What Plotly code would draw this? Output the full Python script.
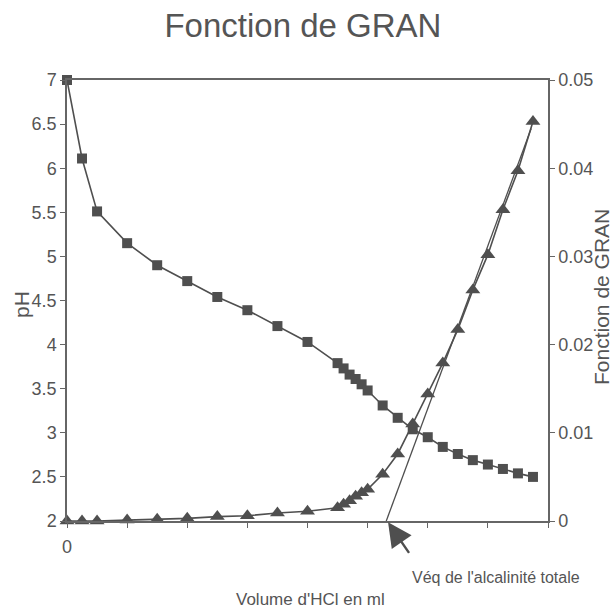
import plotly.graph_objects as go

# Volume of HCl (ml)
volume_ml = [0, 0.25, 0.5, 1, 1.5, 2, 2.5, 3, 3.5, 4, 4.5, 4.6, 4.7, 4.8, 4.9, 5.0,
             5.25, 5.5, 5.75, 6, 6.25, 6.5, 6.75, 7, 7.25, 7.5, 7.75]
# pH readings (left axis)
ph_values = [7.0, 6.11, 5.51, 5.15, 4.90, 4.72, 4.54, 4.39, 4.21, 4.03, 3.79, 3.73, 3.66,
             3.61, 3.55, 3.48, 3.31, 3.17, 3.04, 2.95, 2.84, 2.76, 2.69, 2.64, 2.59, 2.54, 2.50]
# Gran function (right axis)
gran_values = [0, 0, 0, 0.0001, 0.0002, 0.0003, 0.0005, 0.0006, 0.0009, 0.0011, 0.0015,
               0.0019, 0.0023, 0.0028, 0.0032, 0.0036, 0.0053, 0.0076, 0.0110, 0.0144,
               0.0179, 0.0217, 0.0262, 0.0302, 0.0353, 0.0397, 0.0453]
# Extrapolated Gran line
line_x = [5.31, 7.72]
line_y = [0.0, 0.0445]
# Equivalence point (arrow tip), in ml
veq_x = 5.34

x_range = [0, 8]
x_tick_vals = [0, 1, 2, 3, 4, 5, 6, 7, 8]
x_tick_text = ["0", "", "", "", "", "", "", "", ""]

MARK = "#4f4f4f"
TEXT = "#555555"
AXIS = "#666666"
FONT = "Liberation Sans, Arial, sans-serif"

fig = go.Figure()
fig.add_trace(go.Scatter(
    x=volume_ml, y=ph_values, mode="lines+markers", yaxis="y", cliponaxis=False,
    line=dict(color=MARK, width=1.6),
    marker=dict(symbol="square", size=10, color=MARK), showlegend=False))
fig.add_trace(go.Scatter(
    x=line_x, y=line_y, mode="lines", yaxis="y2", cliponaxis=False,
    line=dict(color=MARK, width=1.3), showlegend=False))
fig.add_trace(go.Scatter(
    x=volume_ml, y=gran_values, mode="lines+markers", yaxis="y2", cliponaxis=False,
    line=dict(color=MARK, width=1.6),
    marker=dict(symbol="triangle-up", size=13, color=MARK), showlegend=False))

fig.update_layout(
    width=612, height=609,
    margin=dict(l=67, r=64, t=80, b=88),
    paper_bgcolor="white", plot_bgcolor="white",
    font=dict(family=FONT, color=TEXT, size=18),
    title=dict(text="Fonction de GRAN", x=0.495, xanchor="center",
               y=1 - 25 / 609, yanchor="middle", yref="container",
               font=dict(size=33, color=TEXT, family=FONT)),
    xaxis=dict(range=x_range, tickvals=x_tick_vals, ticktext=x_tick_text,
               showgrid=False, zeroline=False, showline=True, mirror=True,
               linecolor=AXIS, linewidth=1.5, ticks="outside", ticklen=5,
               tickcolor=AXIS, tickwidth=1.2, ticklabelstandoff=4,
               tickfont=dict(size=18, color=TEXT)),
    yaxis=dict(range=[2, 7], dtick=0.5, showgrid=False, zeroline=False,
               showline=True, linecolor=AXIS, linewidth=1.5, ticks="outside",
               ticklen=5, tickcolor=AXIS, tickwidth=1.2,
               tickfont=dict(size=18, color=TEXT)),
    yaxis2=dict(range=[0, 0.05], dtick=0.01, overlaying="y", side="right",
                showgrid=False, zeroline=False, showline=True, linecolor=AXIS,
                linewidth=1.5, ticks="outside", ticklen=5, tickcolor=AXIS,
                tickwidth=1.2, tickfont=dict(size=18, color=TEXT)),
)

fig.add_annotation(text="pH", xref="paper", yref="paper", x=(22 - 67) / 481, y=0.49,
                   xanchor="center", yanchor="middle",
                   textangle=-90, showarrow=False, font=dict(size=21, color=TEXT))
fig.add_annotation(text="Fonction de GRAN", xref="paper", yref="paper",
                   x=(601 - 67) / 481, y=(521 - 297) / 441, textangle=-90,
                   xanchor="center", yanchor="middle",
                   showarrow=False, font=dict(size=21, color=TEXT))
fig.add_annotation(text="Volume d'HCl en ml", xref="paper", yref="paper",
                   x=(310 - 67) / 481, y=(521 - 599) / 441, showarrow=False,
                   xanchor="center", yanchor="middle",
                   font=dict(size=17, color=TEXT))
fig.add_annotation(text="Véq de l'alcalinité totale", xref="paper", yref="paper",
                   x=(496 - 67) / 481, y=(521 - 577) / 441, showarrow=False,
                   xanchor="center", yanchor="middle",
                   font=dict(size=16, color=TEXT))
# arrow pointing at the equivalence volume on the x axis
fig.add_annotation(text="", x=veq_x / x_range[1], y=-0.003, xref="paper", yref="paper",
                   ax=22, ay=32, axref="pixel", ayref="pixel",
                   showarrow=True, arrowhead=2, arrowsize=2.0,
                   arrowwidth=2.4, arrowcolor=MARK, standoff=0, startstandoff=0)

fig.write_html("out.html")
